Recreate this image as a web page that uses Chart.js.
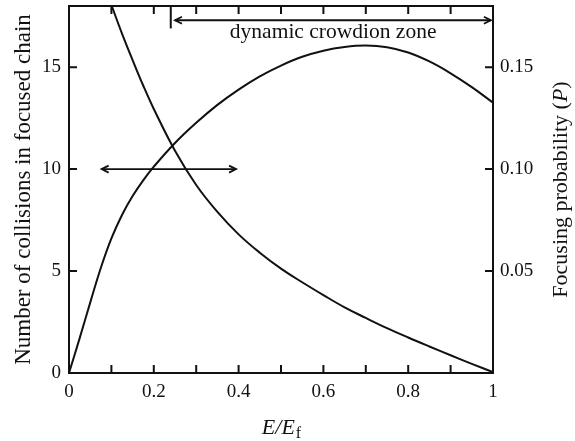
<!DOCTYPE html>
<html>
<head>
<meta charset="utf-8">
<script src="https://cdn.jsdelivr.net/npm/chart.js@4"></script>
<style>
  body { margin: 0; background: #fff; }
</style>
</head>
<body>
<canvas id="chart" width="575" height="441"></canvas>
<script>
// focusing probability curve (right axis)
const energy = [0, 0.025, 0.05, 0.075, 0.1, 0.125, 0.15, 0.175, 0.2, 0.25, 0.3, 0.35, 0.4, 0.45, 0.5, 0.55, 0.6, 0.65, 0.7, 0.75, 0.8, 0.85, 0.9, 0.95, 1.0];
const probability = [0, 0.017, 0.0345, 0.0515, 0.066, 0.0775, 0.0868, 0.0945, 0.1012, 0.1128, 0.1227, 0.1315, 0.139, 0.1455, 0.1508, 0.1551, 0.1581, 0.1599, 0.1606, 0.1598, 0.1572, 0.1528, 0.147, 0.1402, 0.1326];

// collisions in focused chain (left axis)
const energyChain = [0.1, 0.125, 0.15, 0.175, 0.2, 0.25, 0.3, 0.35, 0.4, 0.45, 0.5, 0.55, 0.6, 0.65, 0.7, 0.75, 0.8, 0.85, 0.9, 0.95, 1.0];
const collisions = [18.05, 16.65, 15.35, 14.1, 12.95, 10.9, 9.22, 7.9, 6.8, 5.9, 5.12, 4.45, 3.82, 3.22, 2.7, 2.2, 1.74, 1.3, 0.87, 0.45, 0.04];

const xTicks = [0, 0.2, 0.4, 0.6, 0.8, 1];
const xMinorTicks = [0.1, 0.2, 0.3, 0.4, 0.5, 0.6, 0.7, 0.8, 0.9];
const leftTicks = [0, 5, 10, 15];
const rightTicks = [0.05, 0.10, 0.15];

// annotations, in data units
const zoneLabel = "dynamic crowdion zone";
const zoneStart = 0.24, zoneArrowFrom = 0.25, zoneArrowTo = 0.995, zoneArrowY = 17.3, zoneBarBottom = 16.9;
const zoneLabelX = 0.623, zoneLabelY = 16.43;
const crossArrow = { from: 0.077, to: 0.394, y: 10 };

const serif = '"Liberation Serif", "Times New Roman", serif';
const ink = "#111";

function head(ctx, x, y, dir) {
  ctx.beginPath();
  ctx.moveTo(x - dir * 7, y - 3.5);
  ctx.lineTo(x, y);
  ctx.lineTo(x - dir * 7, y + 3.5);
  ctx.stroke();
}

const framePlugin = {
  id: "frame",
  afterDraw(chart) {
    const { ctx, chartArea: a, scales } = chart;
    const x = scales.x, yl = scales.yLeft, yr = scales.yRight;
    const tl = 8;
    ctx.save();
    ctx.strokeStyle = ink;
    ctx.fillStyle = ink;
    ctx.lineWidth = 2;
    ctx.strokeRect(a.left, a.top, a.right - a.left, a.bottom - a.top);

    ctx.beginPath();
    xMinorTicks.forEach(v => {
      const px = x.getPixelForValue(v);
      ctx.moveTo(px, a.bottom); ctx.lineTo(px, a.bottom - tl);
      ctx.moveTo(px, a.top); ctx.lineTo(px, a.top + tl);
    });
    leftTicks.forEach(v => {
      const py = yl.getPixelForValue(v);
      ctx.moveTo(a.left, py); ctx.lineTo(a.left + tl, py);
    });
    rightTicks.forEach(v => {
      const py = yr.getPixelForValue(v);
      ctx.moveTo(a.right, py); ctx.lineTo(a.right - tl, py);
    });
    ctx.stroke();

    // arrows
    ctx.lineWidth = 1.8;
    const ay = yl.getPixelForValue(crossArrow.y);
    const ax1 = x.getPixelForValue(crossArrow.from), ax2 = x.getPixelForValue(crossArrow.to);
    ctx.beginPath(); ctx.moveTo(ax1, ay); ctx.lineTo(ax2, ay); ctx.stroke();
    head(ctx, ax1, ay, -1); head(ctx, ax2, ay, 1);

    const zy = yl.getPixelForValue(zoneArrowY);
    const zx1 = x.getPixelForValue(zoneArrowFrom), zx2 = x.getPixelForValue(zoneArrowTo);
    ctx.beginPath(); ctx.moveTo(zx1, zy); ctx.lineTo(zx2, zy); ctx.stroke();
    head(ctx, zx1, zy, -1); head(ctx, zx2, zy, 1);
    const bx = x.getPixelForValue(zoneStart);
    ctx.lineWidth = 2;
    ctx.beginPath(); ctx.moveTo(bx, a.top); ctx.lineTo(bx, yl.getPixelForValue(zoneBarBottom)); ctx.stroke();

    ctx.font = "21.5px " + serif;
    ctx.textAlign = "center";
    ctx.textBaseline = "alphabetic";
    ctx.fillText(zoneLabel, x.getPixelForValue(zoneLabelX), yl.getPixelForValue(zoneLabelY));

    // x axis title: E/E_f
    ctx.textAlign = "left";
    const main = "E/E", sub = "f";
    ctx.font = "italic 22px " + serif;
    const wMain = ctx.measureText(main).width;
    ctx.font = "16px " + serif;
    const wSub = ctx.measureText(sub).width;
    const tx = (a.left + a.right) / 2 - (wMain + wSub) / 2;
    const ty = a.bottom + 61;
    ctx.font = "italic 22px " + serif;
    ctx.fillText(main, tx, ty);
    ctx.font = "16px " + serif;
    ctx.fillText(sub, tx + wMain + 1, ty + 4);

    // right axis title: Focusing probability (P)
    const parts = [["Focusing probability (", "22px "], ["P", "italic 22px "], [")", "22px "]];
    let total = 0;
    parts.forEach(p => { ctx.font = p[1] + serif; total += ctx.measureText(p[0]).width; });
    ctx.translate(a.right + 74, (a.top + a.bottom) / 2);
    ctx.rotate(-Math.PI / 2);
    let cx = -total / 2;
    parts.forEach(p => {
      ctx.font = p[1] + serif;
      ctx.fillText(p[0], cx, 0);
      cx += ctx.measureText(p[0]).width;
    });
    ctx.restore();
  }
};

function fixTicks(values) {
  return scale => { scale.ticks = values.map(v => ({ value: v })); };
}

new Chart(document.getElementById("chart"), {
  type: "line",
  data: {
    datasets: [
      {
        label: "Focusing probability",
        data: energy.map((e, i) => ({ x: e, y: probability[i] })),
        yAxisID: "yRight",
        borderColor: ink,
        borderWidth: 2,
        pointRadius: 0,
        tension: 0.4,
        fill: false
      },
      {
        label: "Number of collisions",
        data: energyChain.map((e, i) => ({ x: e, y: collisions[i] })),
        yAxisID: "yLeft",
        borderColor: ink,
        borderWidth: 2,
        pointRadius: 0,
        tension: 0.4,
        fill: false
      }
    ]
  },
  options: {
    responsive: false,
    animation: false,
    layout: { padding: { top: 6, left: 0, right: 0, bottom: 0 } },
    plugins: { legend: { display: false }, tooltip: { enabled: false } },
    scales: {
      x: {
        type: "linear",
        min: 0,
        max: 1,
        afterBuildTicks: fixTicks(xTicks),
        grid: { display: false, drawTicks: false },
        border: { display: false },
        ticks: {
          padding: 8,
          color: ink,
          font: { family: serif, size: 19 },
          callback: v => (v === 0 || v === 1) ? String(v) : v.toFixed(1)
        },
        afterFit: s => { s.height = 68; s.paddingLeft = 0; s.paddingRight = 0; }
      },
      yLeft: {
        type: "linear",
        position: "left",
        min: 0,
        max: 18,
        afterBuildTicks: fixTicks(leftTicks),
        grid: { display: false, drawTicks: false },
        border: { display: false },
        ticks: { padding: 8, color: ink, font: { family: serif, size: 19 }, callback: v => String(v) },
        title: {
          display: true,
          text: "Number of collisions in focused chain",
          color: ink,
          font: { family: serif, size: 23 },
          padding: { top: 10, bottom: 0 }
        },
        afterFit: s => { s.width = 69; s.paddingTop = 0; s.paddingBottom = 0; }
      },
      yRight: {
        type: "linear",
        position: "right",
        min: 0,
        max: 0.18,
        afterBuildTicks: fixTicks(rightTicks),
        grid: { display: false, drawTicks: false },
        border: { display: false },
        ticks: { padding: 7, color: ink, font: { family: serif, size: 19 }, callback: v => v.toFixed(2) },
        afterFit: s => { s.width = 82; s.paddingTop = 0; s.paddingBottom = 0; }
      }
    }
  },
  plugins: [framePlugin]
});
</script>
</body>
</html>
